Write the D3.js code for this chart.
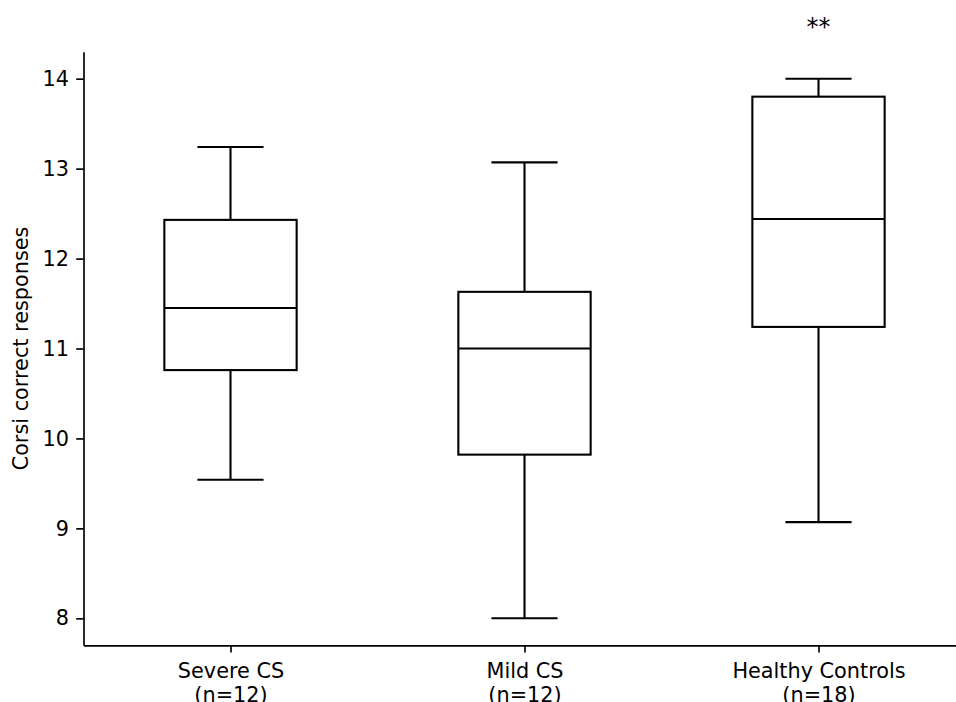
<!DOCTYPE html>
<html>
<head>
<meta charset="utf-8">
<script src="https://cdn.jsdelivr.net/npm/d3@7"></script>
<style>
  html, body { margin: 0; padding: 0; background: #fff; }
  svg { display: block; }
  text { font-family: "DejaVu Sans", sans-serif; fill: #000; }
</style>
</head>
<body>
<svg id="chart" width="956" height="702"></svg>
<script>
// Corsi block-tapping correct responses per group (box-plot summaries)
const groups = ["Severe CS", "Mild CS", "Healthy Controls"];
const groupSizes = [12, 12, 18];
const whiskerLow = [9.54, 8.0, 9.07];
const quartile1 = [10.76, 9.82, 11.24];
const medians = [11.45, 11.0, 12.44];
const quartile3 = [12.43, 11.63, 13.8];
const whiskerHigh = [13.24, 13.07, 14.0];
const significance = ["", "", "**"];
const yTicks = [8, 9, 10, 11, 12, 13, 14];

const fontSize = 20.8;
const svg = d3.select("#chart");

const plot = { left: 83.5, right: 965.5, top: 51.7, bottom: 645.3 };

// positions 1..n on a continuous axis with half-unit padding
const x = d3.scaleLinear()
  .domain([0.5, groups.length + 0.5])
  .range([plot.left, plot.right]);

const y = d3.scaleLinear()
  .domain([7.7, 14.3])
  .range([plot.bottom, plot.top]);

const boxWidth = 0.45;
const capWidth = 0.225;
const lw = 2.1;

const boxes = groups.map((g, i) => ({
  name: g, n: groupSizes[i], pos: i + 1,
  lo: whiskerLow[i], q1: quartile1[i], med: medians[i],
  q3: quartile3[i], hi: whiskerHigh[i], sig: significance[i]
}));

const gBox = svg.append("g")
  .attr("fill", "none")
  .attr("stroke", "#000")
  .attr("stroke-width", lw);

const b = gBox.selectAll("g.box").data(boxes).join("g").attr("class", "box");

// whiskers
b.append("line")
  .attr("x1", d => x(d.pos)).attr("x2", d => x(d.pos))
  .attr("y1", d => y(d.q1)).attr("y2", d => y(d.lo));
b.append("line")
  .attr("x1", d => x(d.pos)).attr("x2", d => x(d.pos))
  .attr("y1", d => y(d.q3)).attr("y2", d => y(d.hi));

// caps
b.append("line")
  .attr("x1", d => x(d.pos - capWidth / 2)).attr("x2", d => x(d.pos + capWidth / 2))
  .attr("y1", d => y(d.lo)).attr("y2", d => y(d.lo));
b.append("line")
  .attr("x1", d => x(d.pos - capWidth / 2)).attr("x2", d => x(d.pos + capWidth / 2))
  .attr("y1", d => y(d.hi)).attr("y2", d => y(d.hi));

// interquartile box
b.append("rect")
  .attr("x", d => x(d.pos - boxWidth / 2))
  .attr("width", d => x(d.pos + boxWidth / 2) - x(d.pos - boxWidth / 2))
  .attr("y", d => y(d.q3))
  .attr("height", d => y(d.q1) - y(d.q3));

// median
b.append("line")
  .attr("x1", d => x(d.pos - boxWidth / 2)).attr("x2", d => x(d.pos + boxWidth / 2))
  .attr("y1", d => y(d.med)).attr("y2", d => y(d.med));

// significance markers above the plot
svg.append("g").selectAll("text")
  .data(boxes.filter(d => d.sig))
  .join("text")
  .attr("x", d => x(d.pos))
  .attr("y", 35)
  .attr("text-anchor", "middle")
  .style("font-size", "24px")
  .text(d => d.sig);

// y axis
const yAxis = svg.append("g")
  .attr("transform", `translate(${plot.left},0)`)
  .call(d3.axisLeft(y).tickValues(yTicks).tickFormat(d3.format("d"))
    .tickSize(7.3).tickSizeOuter(0).tickPadding(7.3));
yAxis.selectAll("text").style("font-size", fontSize + "px").attr("font-family", null);
yAxis.selectAll("line, path").attr("stroke", "#000").attr("stroke-width", 1.67);

// x axis
const xAxis = svg.append("g")
  .attr("transform", `translate(0,${plot.bottom})`)
  .call(d3.axisBottom(x).tickValues(boxes.map(d => d.pos))
    .tickFormat("").tickSize(7.3).tickSizeOuter(0));
xAxis.selectAll("line, path").attr("stroke", "#000").attr("stroke-width", 1.67);
xAxis.selectAll(".tick").each(function(pos) {
  const d = boxes[pos - 1];
  const t = d3.select(this).select("text")
    .attr("y", null).attr("dy", null)
    .style("font-size", fontSize + "px").attr("font-family", null)
    .text(null);
  t.append("tspan").attr("x", 0).attr("y", 32.7).text(d.name);
  t.append("tspan").attr("x", 0).attr("y", 57).text(`(n=${d.n})`);
});

// y axis title
svg.append("text")
  .attr("transform", `translate(28,${(plot.top + plot.bottom) / 2}) rotate(-90)`)
  .attr("text-anchor", "middle")
  .style("font-size", fontSize + "px")
  .text("Corsi correct responses");
</script>
</body>
</html>
